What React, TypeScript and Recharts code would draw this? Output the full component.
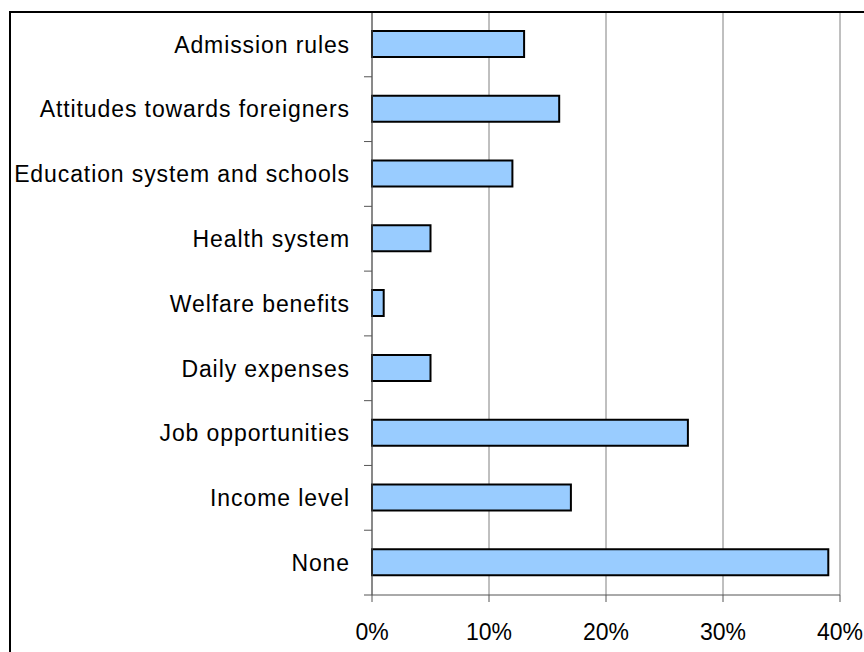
import React from 'react';
import { Bar, BarChart, CartesianGrid, XAxis, YAxis } from 'recharts';

// survey answers, percent of respondents
const categories: string[] = [
  'Admission rules',
  'Attitudes towards foreigners',
  'Education system and schools',
  'Health system',
  'Welfare benefits',
  'Daily expenses',
  'Job opportunities',
  'Income level',
  'None',
];
const shares: number[] = [13, 16, 12, 5, 1, 5, 27, 17, 39];
const xTicks: number[] = [0, 10, 20, 30, 40];

const data = categories.map((name, i) => ({ name, share: shares[i] }));

const FONT = '"Liberation Sans", Arial, sans-serif';
const AXIS = '#555';

// category label plus a short tick mark on the band boundary below it
const CategoryTick = (props: any) => {
  const { x, y, payload } = props;
  const half = payload && payload.offset ? payload.offset : 32.4;
  return (
    <g>
      <line x1={x - 8} x2={x} y1={y + half} y2={y + half} stroke={AXIS} strokeWidth={1} />
      <text
        x={x - 22}
        y={y}
        dy="0.36em"
        textAnchor="end"
        fontFamily={FONT}
        fontSize={23}
        letterSpacing={0.9}
        fill="#000"
      >
        {payload.value}
      </text>
    </g>
  );
};

const App: React.FC = () => {
  return (
    <div style={{ position: 'relative', width: 864, height: 652, overflow: 'hidden', background: '#fff' }}>
      <style>{'body{margin:0;overflow:hidden}'}</style>
      <BarChart
        width={864}
        height={652}
        data={data}
        layout="vertical"
        margin={{ top: 12, right: 24, bottom: 0, left: 0 }}
      >
        <CartesianGrid horizontal={false} stroke="#808080" strokeWidth={1} />
        <XAxis
          type="number"
          domain={[0, 40]}
          ticks={xTicks}
          tickFormatter={(v: number) => v + '%'}
          height={57}
          stroke={AXIS}
          tickSize={7}
          tickMargin={22}
          tick={{ fill: '#000', fontSize: 23, fontFamily: FONT }}
        />
        <YAxis
          type="category"
          dataKey="name"
          width={372}
          stroke={AXIS}
          tickLine={false}
          tickSize={0}
          tickMargin={0}
          tick={<CategoryTick />}
          interval={0}
        />
        <Bar
          dataKey="share"
          fill="#99CCFF"
          stroke="#000"
          strokeWidth={2}
          barSize={26}
          isAnimationActive={false}
        />
      </BarChart>
      <div
        style={{
          position: 'absolute',
          left: 9,
          top: 11,
          width: 1000,
          height: 1000,
          border: '2px solid #000',
          pointerEvents: 'none',
        }}
      />
    </div>
  );
};

export default App;
